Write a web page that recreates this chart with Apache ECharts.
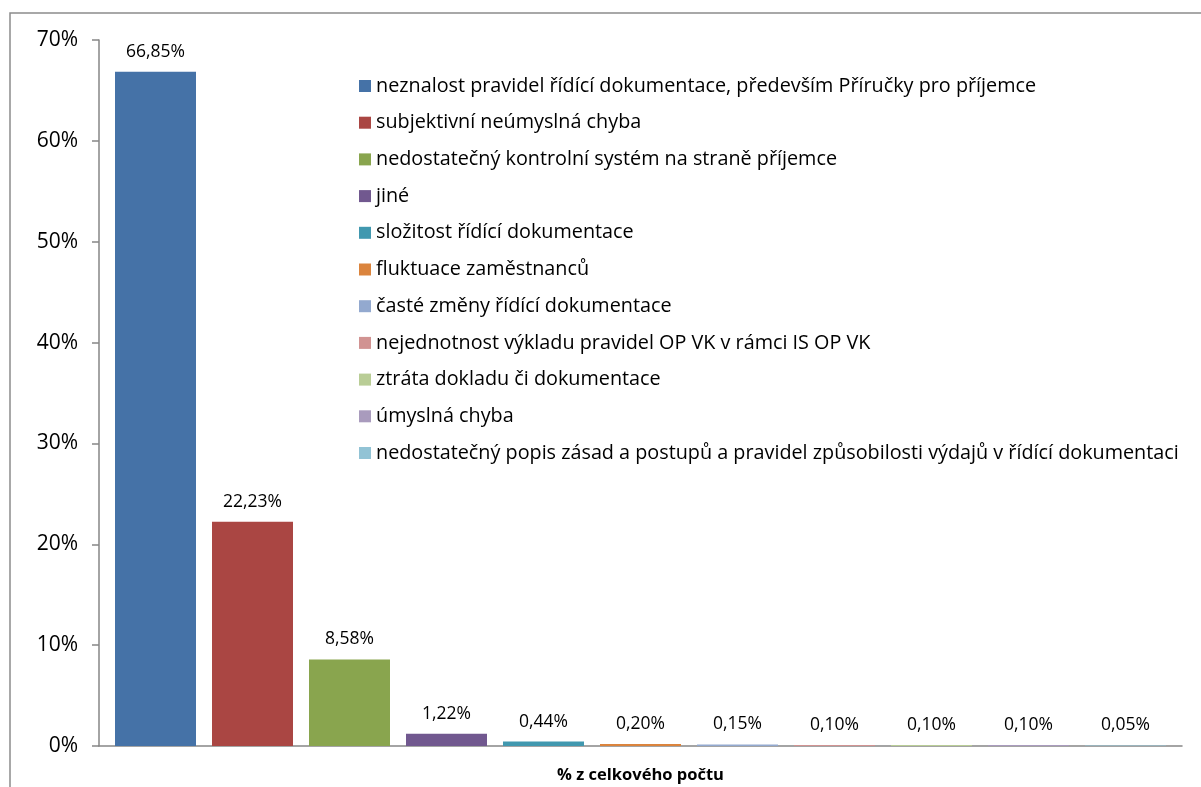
<!DOCTYPE html>
<html>
<head>
<meta charset="utf-8">
<script src="https://cdn.jsdelivr.net/npm/echarts@6/dist/echarts.min.js"></script>
<style>
  html, body { margin: 0; padding: 0; background: #fff; }
  #chart { width: 1201px; height: 787px; }
</style>
</head>
<body>
<div id="chart"></div>
<script>
// příčiny chyb (legend / series names)
var reasons = [
  'neznalost pravidel řídící dokumentace, především Příručky pro příjemce',
  'subjektivní neúmyslná chyba',
  'nedostatečný kontrolní systém na straně příjemce',
  'jiné',
  'složitost řídící dokumentace',
  'fluktuace zaměstnanců',
  'časté změny řídící dokumentace',
  'nejednotnost výkladu pravidel OP VK v rámci IS OP VK',
  'ztráta dokladu či dokumentace',
  'úmyslná chyba',
  'nedostatečný popis zásad a postupů a pravidel způsobilosti výdajů v řídící dokumentaci'
];
// % z celkového počtu
var shares = [66.85, 22.23, 8.58, 1.22, 0.44, 0.20, 0.15, 0.10, 0.10, 0.10, 0.05];
var colors = ['#4572A7', '#AA4643', '#89A54E', '#71588F', '#4198AF', '#DB843D',
              '#93A9CF', '#D19392', '#B9CD96', '#A99BBD', '#92C3D5'];
var yTicks = [0, 10, 20, 30, 40, 50, 60, 70];

var chart = echarts.init(document.getElementById('chart'));

var font = '"Open Sans", "Noto Sans", sans-serif';
// excel draws all bars of the single category with equal gaps, so the bars sit
// on a value axis with slots at 0..10 and a padded range
var pad = 0.5825;
var series = reasons.map(function (name, i) {
  return {
    name: name,
    type: 'bar',
    barWidth: 81,
    barGap: '-100%',
    data: [[i, shares[i]]],
    itemStyle: { color: colors[i] },
    label: {
      show: true,
      position: 'top',
      distance: 11,
      color: '#000',
      fontFamily: font,
      fontSize: 17.5,
      formatter: function (p) {
        return p.value[1].toFixed(2).replace('.', ',') + '%';
      }
    }
  };
});

chart.setOption({
  animation: false,
  textStyle: { fontFamily: font },
  graphic: [{
    type: 'rect',
    shape: { x: 10, y: 13, width: 1250, height: 800 },
    style: { fill: 'none', stroke: '#8c8c8c', lineWidth: 1.5 },
    silent: true
  }],
  grid: { left: 99, right: 19, top: 40, bottom: 41, outerBoundsMode: 'none' },
  legend: {
    orient: 'vertical',
    left: 354,
    top: 71,
    itemWidth: 12,
    itemHeight: 12,
    itemGap: 16.7,
    icon: 'rect',
    textStyle: { fontFamily: font, fontSize: 19.8, lineHeight: 20, color: '#000' },
    data: reasons
  },
  xAxis: {
    type: 'value',
    min: -pad,
    max: shares.length - 1 + pad,
    name: '% z celkového počtu',
    nameLocation: 'middle',
    nameGap: 21,
    nameTextStyle: { fontFamily: font, fontSize: 16.5, fontWeight: 'bold', color: '#000' },
    axisLine: { show: true, lineStyle: { color: '#868686', width: 1.5 } },
    axisTick: { show: false },
    axisLabel: { show: false },
    splitLine: { show: false }
  },
  yAxis: {
    type: 'value',
    min: yTicks[0],
    max: yTicks[yTicks.length - 1],
    interval: 10,
    axisLine: { show: true, onZero: false, lineStyle: { color: '#868686', width: 1.5 } },
    axisTick: { show: true, length: 7, lineStyle: { color: '#868686', width: 1.5 } },
    splitLine: { show: false },
    axisLabel: {
      margin: 21,
      color: '#000',
      fontFamily: font,
      fontSize: 21,
      formatter: '{value}%'
    }
  },
  series: series
});
</script>
</body>
</html>
